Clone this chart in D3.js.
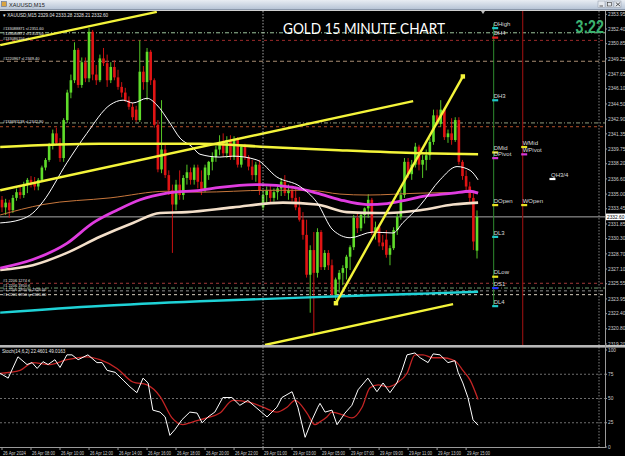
<!DOCTYPE html>
<html><head><meta charset="utf-8">
<script src="https://cdn.jsdelivr.net/npm/d3@7"></script>
<style>
html,body{margin:0;padding:0;background:#000;overflow:hidden;}
svg{display:block;}
</style></head><body>
<svg id="c" width="625" height="456"></svg>
<script>
// ---------------- DATA ----------------
const symbolInfo = "\u25BE XAUUSD,M15  2329.04 2333.28 2328.21 2332.60";
const chartTitle = "GOLD 15 MINUTE CHART";
const countdown = "3:22";
const stochInfo = "Stoch(14,6,2) 22.4601 49.0163";

const barOpen = [2334.4,2333.6,2334.1,2333.3,2334.6,2335.2,2334.9,2336.0,2336.5,2336.2,
 2335.8,2336.5,2337.8,2338.6,2340.1,2341.4,2340.4,2338.8,2342.8,2345.7,
 2347.0,2350.2,2346.5,2348.9,2347.2,2352.1,2347.6,2347.0,2349.3,2348.8,
 2347.0,2348.4,2347.3,2346.3,2345.7,2344.9,2344.2,2343.9,2342.8,2347.9,
 2346.8,2350.0,2347.0,2342.3,2337.6,2339.7,2337.0,2335.4,2333.9,2336.0,
 2334.9,2336.7,2337.3,2336.5,2337.8,2336.3,2335.4,2337.0,2338.4,2338.9,
 2339.7,2340.5,2339.3,2340.7,2338.9,2340.7,2338.1,2340.0,2338.9,2337.9,
 2337.0,2338.1,2333.6,2334.9,2335.4,2334.6,2335.2,2335.6,2336.3,2335.1,
 2335.4,2334.6,2333.6,2332.3,2330.7,2326.5,2329.1,2326.7,2331.0,2327.3,
 2328.8,2327.5,2324.4,2326.0,2326.7,2327.2,2328.4,2329.4,2332.5,2331.4,
 2332.8,2333.5,2334.4,2330.9,2331.5,2329.9,2330.2,2328.6,2329.3,2331.2,
 2332.6,2334.9,2338.4,2337.1,2338.1,2340.0,2338.1,2338.6,2339.1,2340.5,
 2343.3,2342.4,2343.9,2341.0,2341.4,2340.7,2342.8,2338.4,2336.9,2335.8,
 2334.6,2329.04];
const barHigh = [2334.8,2334.5,2334.4,2334.9,2335.6,2335.8,2336.3,2336.7,2336.9,2336.8,
 2336.7,2338.0,2338.8,2340.4,2341.8,2342.0,2340.9,2343.0,2346.0,2347.6,
 2351.0,2350.4,2349.4,2349.4,2352.5,2352.3,2348.6,2349.7,2350.4,2349.7,
 2348.9,2349.1,2348.1,2346.8,2346.2,2345.3,2344.6,2344.3,2351.2,2348.5,
 2350.4,2350.2,2347.2,2342.8,2344.9,2340.2,2337.5,2336.0,2336.5,2337.5,
 2337.0,2338.1,2337.8,2338.1,2338.1,2337.5,2338.1,2338.5,2339.4,2340.1,
 2341.2,2341.4,2341.1,2341.2,2341.1,2341.0,2340.2,2340.3,2339.1,2338.6,
 2338.4,2338.6,2335.4,2335.8,2335.9,2335.6,2335.9,2336.7,2337.0,2336.0,
 2335.9,2335.8,2334.7,2333.1,2332.3,2329.6,2331.0,2331.4,2331.2,2329.1,
 2329.1,2328.1,2326.2,2327.0,2327.5,2328.6,2329.6,2332.8,2333.0,2333.0,
 2333.6,2335.0,2334.6,2332.1,2331.8,2330.7,2331.2,2329.6,2331.5,2333.0,
 2335.4,2338.8,2338.8,2338.6,2340.4,2340.2,2339.1,2339.7,2340.9,2343.9,
 2343.9,2344.9,2344.1,2341.8,2343.0,2343.1,2343.1,2338.6,2337.5,2336.3,
 2335.1,2333.28];
const barLow = [2333.1,2332.8,2332.5,2333.0,2334.3,2334.5,2334.6,2335.1,2335.7,2335.4,
 2335.4,2336.3,2337.5,2338.4,2339.7,2340.2,2338.4,2338.4,2342.5,2345.1,
 2346.7,2346.2,2346.2,2346.8,2346.8,2347.0,2346.5,2346.8,2348.5,2346.3,
 2346.7,2347.0,2346.0,2345.2,2344.7,2343.9,2342.8,2342.6,2342.6,2346.0,
 2344.9,2346.5,2342.0,2337.3,2337.2,2336.7,2334.9,2328.8,2333.3,2334.4,
 2334.4,2336.0,2336.0,2336.0,2335.6,2334.9,2335.2,2336.5,2337.5,2338.4,
 2339.1,2338.9,2338.8,2338.6,2338.6,2337.8,2337.8,2338.6,2337.5,2336.5,
 2336.3,2334.9,2333.3,2333.9,2334.1,2334.2,2334.4,2334.8,2334.8,2334.4,
 2334.2,2333.3,2332.1,2330.2,2326.2,2322.5,2320.2,2326.2,2327.0,2327.0,
 2327.0,2324.1,2323.8,2324.6,2325.4,2326.0,2327.0,2329.1,2330.9,2331.1,
 2331.9,2332.5,2330.7,2330.2,2329.5,2329.1,2328.3,2327.5,2329.1,2330.7,
 2332.3,2334.6,2336.7,2336.5,2337.8,2337.5,2336.7,2337.5,2338.6,2340.2,
 2342.3,2342.1,2340.7,2340.4,2340.2,2340.5,2338.1,2336.5,2335.4,2334.1,
 2329.1,2328.21];
const barClose = [2333.6,2334.1,2333.3,2334.6,2335.2,2334.9,2336.0,2336.5,2336.2,2335.8,
 2336.5,2337.8,2338.6,2340.1,2341.4,2340.4,2338.8,2342.8,2345.7,2347.0,
 2350.2,2346.5,2348.9,2347.2,2352.1,2347.6,2347.0,2349.3,2348.8,2347.0,
 2348.4,2347.3,2346.3,2345.7,2344.9,2344.2,2343.1,2342.8,2347.9,2346.8,
 2350.0,2347.0,2342.3,2337.6,2339.7,2337.0,2335.4,2333.9,2336.0,2334.9,
 2336.7,2337.3,2336.5,2337.8,2336.3,2335.4,2337.8,2338.4,2338.9,2339.7,
 2340.5,2339.3,2340.7,2338.9,2340.7,2338.1,2340.0,2338.9,2337.9,2337.0,
 2338.1,2335.4,2334.9,2335.4,2334.6,2335.2,2335.6,2336.3,2335.1,2335.4,
 2334.6,2333.6,2332.3,2330.7,2326.5,2329.1,2326.7,2331.0,2327.3,2328.8,
 2327.5,2324.4,2326.0,2326.7,2327.2,2328.4,2329.4,2332.5,2331.4,2332.8,
 2333.5,2334.4,2330.9,2331.5,2329.9,2329.5,2328.6,2329.3,2331.2,2332.6,
 2334.9,2338.4,2337.1,2338.1,2340.0,2338.1,2338.6,2339.1,2340.5,2343.3,
 2342.4,2343.9,2341.0,2341.4,2340.7,2342.8,2338.4,2336.9,2335.8,2334.6,
 2330.0,2332.60];

// time axis labels (every 8 bars)
const timeLabelBars = [0,8,16,24,32,40,48,56,64,72,80,88,96,104,112,120,128];
const timeLabels = ["26 Apr 2024","26 Apr 08:00","26 Apr 10:00","26 Apr 12:00","26 Apr 14:00",
 "26 Apr 16:00","26 Apr 18:00","26 Apr 20:00","26 Apr 22:00","29 Apr 01:00","29 Apr 03:00",
 "29 Apr 05:00","29 Apr 07:00","29 Apr 09:00","29 Apr 11:00","29 Apr 13:00","29 Apr 15:00"];

const priceTicks = [2353.95,2352.40,2350.85,2349.25,2347.65,2346.10,2344.50,2342.90,2341.35,
 2339.75,2338.20,2336.60,2335.00,2333.45,2331.85,2330.30,2328.70,2327.10,2325.55,2323.95,
 2322.40,2320.80,2319.20];
const bidPrice = 2332.60;
const stochTicks = [100,75,50,25,0];
const stochLevels = [75,50,25];

// indicator lines (bar index, value)
const maWhiteBar = [-0.5,5,8.5,11.3,17.9,23.4,29.8,33.4,36.1,40,42.7,46.3,49.1,52.4,54.6,60.1,63.7,70.3,75.8,82.2,86.9,91.3,96,102.3,107.8,110.6,115.3,120.8,125.5,129.1,131.3];
const maWhite = [2331.96,2332.3,2333.0,2334.2,2338.3,2341.4,2344.4,2344.9,2344.6,2345.1,2344.4,2342.5,2340.9,2340.0,2339.2,2338.9,2339.0,2338.6,2336.8,2335.8,2334.1,2331.2,2330.4,2331.0,2330.9,2332.0,2333.8,2336.5,2337.9,2337.5,2336.5];
const maMagentaBar = [-0.5,8.5,17.9,25.1,31.7,38.1,45.5,54.6,60.1,71.2,80.3,86.9,93.2,100.7,106.2,111.7,115.3,124.4,129.1,131.3];
const maMagenta = [2327.2,2328.1,2329.8,2331.96,2333.3,2334.4,2335.1,2335.4,2335.7,2336.0,2335.7,2335.1,2334.4,2333.9,2334.0,2334.4,2334.7,2335.1,2335.3,2335.1];
const maBeigeBar = [-0.5,8.5,17.9,27,36.1,43.6,51,63.7,77.5,86.9,95.1,104.2,115.3,124.4,131.3];
const maBeige = [2327.0,2327.5,2328.8,2330.5,2331.96,2333.0,2333.1,2333.6,2334.1,2333.9,2333.1,2333.0,2333.3,2333.9,2334.1];
const maBrownBar = [-0.5,11.3,29.8,45.5,54.6,73.1,84.9,93.2,100.7,115.3,131.3];
const maBrown = [2332.8,2333.9,2334.6,2335.3,2335.2,2335.4,2335.4,2335.0,2334.9,2335.1,2335.2];
const maCyanBar = [-0.5,27,54.6,91.3,115.3,131.3];
const maCyan = [2322.5,2323.2,2323.7,2324.2,2324.5,2324.7];
const maYellowBar = [-0.5,27,54.6,73.1,91.3,115.3,131.3];
const maYellow = [2339.97,2340.3,2340.3,2339.97,2339.65,2339.3,2339.2];

// trend lines: [bar1, price1, bar2, price2]
const trendLines = [
  [-0.5,2350.7,42.7,2354.2],
  [-0.5,2335.4,113.4,2344.8],
  [92.1,2323.5,127.1,2347.4],
  [72.5,2319.1,124.4,2323.4]
];

// horizontal order / level lines
const levelPrices = [2352.0,2351.2,2349.0,2342.5,2342.1,2325.6,2325.1,2324.8,2324.4];
const orderLabels = ["#133088871 sl 2351.60","#133088871 sl 2351.60","#133086156 sl","#1220967 sl 2349.40",
 "#133691138 sl 2342.90","#1 2206 1274 tl","#1 2206 1950 tl","#1 2206 1950 tp 2326.00","#1 2206 1950 tp 2326.00"];
const orderLabelPrices = [2352.4,2351.9,2351.35,2349.3,2342.66,2325.9,2325.4,2324.9,2324.4];

// pivot markers
const markerNames = ["DHigh","DH4","DH3","DMid","DPivot","DOpen","DL3","DLow","DS1","DL4","WMid","WPivot","WOpen","QH3/4"];
const markerPrices = [2352.5,2351.5,2344.9,2339.4,2338.8,2333.85,2330.5,2326.3,2325.1,2323.2,2339.97,2339.2,2333.85,2336.6];
const markerBars = [135.6,135.6,135.6,135.6,135.6,135.6,135.6,135.6,135.6,135.6,143.6,143.6,143.6,151.4];

// stochastic (bar index, value)
const stochKBar = [-0.5,1.7,4.4,6.9,8.3,9.7,11.3,12.7,14.6,16,17.9,19.3,21,23.7,26.2,27.6,29,31.2,33.4,35.3,37.2,38.9,40.3,41.6,43.6,45,46.3,47.7,49.6,51.8,53.8,55.2,56.8,58.7,60.9,63.4,65.6,67.8,70.3,73.1,75.8,77.2,80,81.6,83.6,85.5,87.1,87.7,89.1,91,92.4,94.6,96.5,98.2,100.9,103.4,105.1,107,108.9,110.3,111.7,113.9,115.3,117.5,118.9,120.8,123,124.9,125.8,127.1,128.5,129.9,131.3];
const stochK = [76,71,93,85,87,81,88,85,90,82,95,95,90,95,87,87,79,77,69,62,56,71,66,38,36,31,12,18,28,36,35,25,31,36,51,51,43,48,40,31,41,51,57,41,10,28,41,45,36,38,23,35,43,59,71,57,66,56,66,79,95,97,92,87,96,95,87,89,77,66,51,28,22.46];
const stochDBar = [-0.5,5,8.5,13.2,17.9,23.4,27,31.7,36.1,40,43.6,46.9,49.9,52.7,56.5,60.1,63.7,68.4,72,75.8,78.6,80.8,84.1,86.3,87.7,89.6,91,94,96.5,99.3,101.5,103.7,106.5,108.9,111.7,113.9,116.1,118.9,121.6,124.1,125.5,127.1,129.1,131.3];
const stochD = [76,79,87,85,90,93,90,81,67,64,52,30,23,26,30,35,48,46,41,36,41,48,35,23,26,31,36,33,30,41,61,64,62,66,76,95,95,92,92,90,87,79,69,49.02];

// ---------------- DRAW ----------------
const W = 625, H = 456, PR = 605;
const svg = d3.select("#c");
const x = d3.scaleLinear().domain([0,131]).range([2,477]);
const y = d3.scaleLinear().domain([2319.2,2352.4]).range([344,29]);
const ys = d3.scaleLinear().domain([0,100]).range([447,350]);
const FONT = "'Liberation Sans', Arial, sans-serif";

svg.append("rect").attr("width",W).attr("height",H).attr("fill","#000");
const defs = svg.append("defs");
const gr = defs.append("linearGradient").attr("id","tb").attr("x1",0).attr("y1",0).attr("x2",0).attr("y2",1);
gr.append("stop").attr("offset",0).attr("stop-color","#e8edf3");
gr.append("stop").attr("offset",1).attr("stop-color","#b8c5d7");
defs.append("clipPath").attr("id","cm").append("rect").attr("x",0).attr("y",11).attr("width",PR).attr("height",334);
defs.append("clipPath").attr("id","cs").append("rect").attr("x",0).attr("y",348).attr("width",PR).attr("height",99);

// window title bar
svg.append("rect").attr("x",0).attr("y",0).attr("width",W).attr("height",9).attr("fill","url(#tb)");
svg.append("rect").attr("x",0).attr("y",9).attr("width",W).attr("height",1).attr("fill","#8a97aa");
svg.append("rect").attr("x",0).attr("y",10).attr("width",W).attr("height",1).attr("fill","#cfcfcf");
svg.append("rect").attr("x",1.5).attr("y",1.5).attr("width",5).attr("height",5).attr("fill","#d9a441").attr("stroke","#5a6f99").attr("stroke-width",0.6);
svg.append("text").attr("x",9).attr("y",6.8).attr("font-family",FONT).attr("font-size",5.6).attr("fill","#1c1c1c").text("XAUUSD,M15");
[598,606,614].forEach(bx=>{
  svg.append("rect").attr("x",bx).attr("y",1).attr("width",7).attr("height",6.5).attr("fill","#e4e8ee").attr("stroke","#8c96a6").attr("stroke-width",0.5);
});
svg.append("line").attr("x1",599.5).attr("x2",603).attr("y1",6).attr("y2",6).attr("stroke","#333").attr("stroke-width",0.8);
svg.append("rect").attr("x",607.5).attr("y",2.5).attr("width",4).attr("height",3.5).attr("fill","none").attr("stroke","#333").attr("stroke-width",0.6);
svg.append("path").attr("d","M615.8,2.5L620.2,6.2M620.2,2.5L615.8,6.2").attr("stroke","#333").attr("stroke-width",0.8);

const main = svg.append("g").attr("clip-path","url(#cm)");
const sub = svg.append("g").attr("clip-path","url(#cs)");

// horizontal level lines
const levelColors = ["#9cc59c","#9a2a2a","#a88c72","#8d9a7c","#b0502a","#a33a3a","#6f9a6f","#8f8f8f","#d8cfbf"];
const levelDash = ["4,2,1,2","3,3","4,3","4,2,1,2","3,3","3,3","4,2,1,2","3,3","3,3"];
levelPrices.forEach((p,i)=>{
  main.append("line").attr("x1",0).attr("x2",PR).attr("y1",y(p)).attr("y2",y(p))
    .attr("stroke",levelColors[i]).attr("stroke-width",1).attr("stroke-dasharray",levelDash[i]);
});
// bid line
main.append("line").attr("x1",0).attr("x2",PR).attr("y1",y(bidPrice)).attr("y2",y(bidPrice)).attr("stroke","#a9a9a9").attr("stroke-width",1);

// vertical separators
[[263,"#c8c8c8"],[599,"#a0a0a0"]].forEach(([vx,c])=>{
  svg.append("line").attr("x1",vx).attr("x2",vx).attr("y1",11).attr("y2",447).attr("stroke",c).attr("stroke-width",0.8).attr("stroke-dasharray","1.5,1.5");
});
// weekly (red) and daily (green) vertical lines
main.append("line").attr("x1",x(143.6)).attr("x2",x(143.6)).attr("y1",11).attr("y2",345).attr("stroke","#8b0f0f").attr("stroke-width",1.2);
main.append("line").attr("x1",x(135.6)).attr("x2",x(135.6)).attr("y1",y(2353.0)).attr("y2",y(2323.2)).attr("stroke","#2e8b2e").attr("stroke-width",1);

// candles
const bars = d3.range(barOpen.length).map(i=>({i,o:barOpen[i],h:barHigh[i],l:barLow[i],c:barClose[i]}));
const upC = "#5fdc2a", dnC = "#e01414";
const cg = main.append("g");
cg.selectAll("line.w").data(bars).join("line")
  .attr("x1",d=>x(d.i)).attr("x2",d=>x(d.i)).attr("y1",d=>y(d.h)).attr("y2",d=>y(d.l))
  .attr("stroke",d=>d.c>=d.o?upC:dnC).attr("stroke-width",0.9);
cg.selectAll("rect.b").data(bars).join("rect")
  .attr("x",d=>x(d.i)-1.3).attr("width",2.6)
  .attr("y",d=>Math.min(y(d.o),y(d.c))).attr("height",d=>Math.max(0.8,Math.abs(y(d.o)-y(d.c))))
  .attr("fill",d=>d.c>=d.o?upC:dnC);

// indicator lines
function series(bx,vals){return bx.map((b,i)=>[b,vals[i]]);}
const ln = d3.line().x(d=>x(d[0])).y(d=>y(d[1])).curve(d3.curveMonotoneX);
main.append("path").attr("d",ln(series(maBrownBar,maBrown))).attr("fill","none").attr("stroke","#c8773c").attr("stroke-width",1);
main.append("path").attr("d",ln(series(maBeigeBar,maBeige))).attr("fill","none").attr("stroke","#f3dfc9").attr("stroke-width",2.6);
main.append("path").attr("d",ln(series(maMagentaBar,maMagenta))).attr("fill","none").attr("stroke","#e03ce0").attr("stroke-width",2.8);
main.append("path").attr("d",ln(series(maWhiteBar,maWhite))).attr("fill","none").attr("stroke","#ffffff").attr("stroke-width",1);
main.append("path").attr("d",ln(series(maCyanBar,maCyan))).attr("fill","none").attr("stroke","#1fd2d6").attr("stroke-width",2.4);
main.append("path").attr("d",ln(series(maYellowBar,maYellow))).attr("fill","none").attr("stroke","#f4f43a").attr("stroke-width",2.6);

// trend lines
trendLines.forEach(t=>{
  main.append("line").attr("x1",x(t[0])).attr("y1",y(t[1])).attr("x2",x(t[2])).attr("y2",y(t[3]))
    .attr("stroke","#f4f43a").attr("stroke-width",2.4);
});
// selection handles on the steep line
[[trendLines[2][0],trendLines[2][1]],[trendLines[2][2],trendLines[2][3]]].forEach(p=>{
  main.append("rect").attr("x",x(p[0])-2.2).attr("y",y(p[1])-2.2).attr("width",4.4).attr("height",4.4).attr("fill","#f4f43a");
});

// order labels on left
orderLabels.forEach((s,i)=>{
  main.append("text").attr("x",3).attr("y",y(orderLabelPrices[i])).attr("dy","0.35em")
    .attr("font-family",FONT).attr("font-size",3.9).attr("fill","#e6e6e6").text(s);
});

// pivot markers and labels
const markerColors = ["#20c8c8","#e02020","#20c8c8","#e8e020","#d838d8","#e8e020","#20c8c8","#e8e020","#2233ff","#20c8c8","#e8e020","#d838d8","#e8e020","#ffffff"];
markerNames.forEach((n,i)=>{
  const mx = x(markerBars[i]), my = y(markerPrices[i]);
  main.append("rect").attr("x",mx-1.5).attr("y",my-1).attr("width",6).attr("height",2.2).attr("fill",markerColors[i]);
  main.append("text").attr("x",mx).attr("y",my-2.2).attr("font-family",FONT).attr("font-size",6)
    .attr("fill","#dcdcdc").text(n);
});

// chart shift marker
svg.append("path").attr("d","M481,11L485,11L483,14Z").attr("fill","#bdbdbd");

// info texts
svg.append("text").attr("x",3).attr("y",16.5).attr("font-family",FONT).attr("font-size",4.6).attr("fill","#e6e6e6").text(symbolInfo);
svg.append("text").attr("x",283).attr("y",33.5).attr("font-family","Lato, 'Open Sans', sans-serif").attr("font-size",14.5)
  .attr("fill","#ffffff").attr("textLength",162).attr("lengthAdjust","spacingAndGlyphs").text(chartTitle);
svg.append("text").attr("transform","translate(575.5,33) scale(1,1.25)").attr("font-family",FONT).attr("font-weight","bold")
  .attr("font-size",14.2).attr("fill","#3cb371").text(countdown);

// separators / frame
svg.append("rect").attr("x",0).attr("y",345).attr("width",W).attr("height",2.6).attr("fill","#b8b8b8");
svg.append("line").attr("x1",0).attr("x2",PR).attr("y1",447.5).attr("y2",447.5).attr("stroke","#9a9a9a").attr("stroke-width",1);
svg.append("line").attr("x1",PR+0.5).attr("x2",PR+0.5).attr("y1",11).attr("y2",448).attr("stroke","#9a9a9a").attr("stroke-width",1);

// price axis
priceTicks.forEach(p=>{
  svg.append("line").attr("x1",PR).attr("x2",PR+2).attr("y1",y(p)).attr("y2",y(p)).attr("stroke","#9a9a9a");
  svg.append("text").attr("x",PR+3).attr("y",y(p)).attr("dy","0.35em").attr("font-family",FONT).attr("font-size",4.8)
    .attr("fill","#cfcfcf").text(p.toFixed(2));
});
svg.append("rect").attr("x",PR+1).attr("y",y(bidPrice)-3.3).attr("width",19).attr("height",6.6).attr("fill","#ffffff");
svg.append("text").attr("x",PR+2).attr("y",y(bidPrice)).attr("dy","0.35em").attr("font-family",FONT).attr("font-size",4.8)
  .attr("fill","#000").text(bidPrice.toFixed(2));

// stochastic window
stochLevels.forEach(v=>{
  sub.append("line").attr("x1",0).attr("x2",PR).attr("y1",ys(v)).attr("y2",ys(v)).attr("stroke","#8a8a8a").attr("stroke-width",0.8).attr("stroke-dasharray","2,2");
});
const lk = d3.line().x(d=>x(d[0])).y(d=>ys(d[1]));
const ld = d3.line().x(d=>x(d[0])).y(d=>ys(d[1])).curve(d3.curveMonotoneX);
sub.append("path").attr("d",ld(series(stochDBar,stochD))).attr("fill","none").attr("stroke","#c42424").attr("stroke-width",1.3);
sub.append("path").attr("d",lk(series(stochKBar,stochK))).attr("fill","none").attr("stroke","#ffffff").attr("stroke-width",1);
svg.append("text").attr("x",2).attr("y",352.5).attr("font-family",FONT).attr("font-size",4.6).attr("fill","#e6e6e6").text(stochInfo);
stochTicks.forEach(v=>{
  svg.append("line").attr("x1",PR).attr("x2",PR+2).attr("y1",ys(v)).attr("y2",ys(v)).attr("stroke","#9a9a9a");
  svg.append("text").attr("x",PR+3).attr("y",ys(v)).attr("dy","0.35em").attr("font-family",FONT).attr("font-size",4.8)
    .attr("fill","#cfcfcf").text(v);
});

// time axis
timeLabelBars.forEach((b,i)=>{
  const tx = x(b);
  svg.append("line").attr("x1",tx).attr("x2",tx).attr("y1",447).attr("y2",450).attr("stroke","#9a9a9a");
  svg.append("text").attr("x",tx+1).attr("y",454.5).attr("font-family",FONT).attr("font-size",4.6)
    .attr("fill","#cfcfcf").attr("textLength",23).attr("lengthAdjust","spacingAndGlyphs").text(timeLabels[i]);
});
</script>
</body></html>
